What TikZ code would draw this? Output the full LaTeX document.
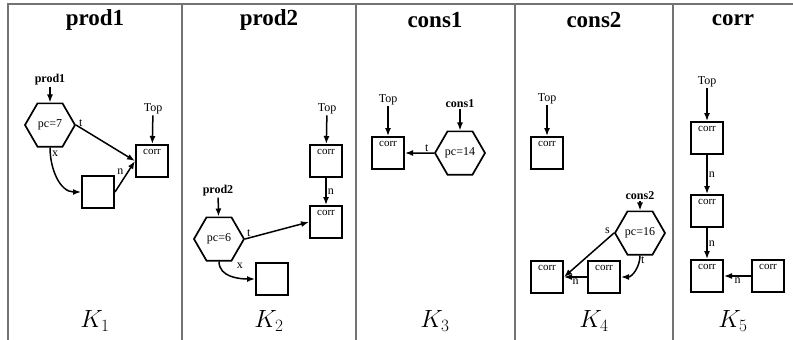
\documentclass[tikz,border=0pt]{standalone}
\usepackage{fontspec}
\setmainfont{Liberation Serif}
\usetikzlibrary{shapes.geometric,arrows.meta}

\begin{document}
\begin{tikzpicture}[x=1pt, y=-1pt,
    frame/.style={draw=black!55, line width=1.6pt},
    hexa/.style={draw, regular polygon, regular polygon sides=6, minimum size=50pt, inner sep=0pt, line width=1.7pt, font=\fontsize{12}{12}\selectfont},
    box/.style={draw, line width=2pt, minimum width=32pt, minimum height=32pt, inner sep=0pt},
    corrbox/.style={box, font=\fontsize{11}{11}\selectfont, text height=8pt, text depth=21pt, inner ysep=1.5pt},
    lbl/.style={font=\fontsize{12}{12}\selectfont, inner sep=1pt},
    ptr/.style={font=\bfseries\fontsize{12}{12}\selectfont, inner sep=1pt},
    edgelbl/.style={font=\fontsize{12}{12}\selectfont, inner sep=1pt},
    arr/.style={-{Latex[length=8pt,width=6pt]}, line width=1.5pt},
    title/.style={font=\bfseries\fontsize{23}{23}\selectfont},
    klbl/.style={font=\fontsize{24}{24}\selectfont}]
    \useasboundingbox (0,0) rectangle (793,340);
    \draw[frame] (8,340) -- (8,4) -- (793,4);
    \foreach \x in {182,356,515,673}
        \draw[frame] (\x,4) -- (\x,340);
    \node[title] (t1) at (95,20) {prod1};
    \node[title] (t2) at (269,20) {prod2};
    \node[title] (t3) at (435,20) {cons1};
    \node[title] (t4) at (594,20) {cons2};
    \node[title] (t5) at (733,20) {corr};
    \node[klbl] (k1) at (95,321) {$K_1$};
    \node[klbl] (k2) at (269,321) {$K_2$};
    \node[klbl] (k3) at (435,321) {$K_3$};
    \node[klbl] (k4) at (594,321) {$K_4$};
    \node[klbl] (k5) at (733,321) {$K_5$};

    \node[ptr] (p1) at (50,80) {prod1};
    \node[hexa] (h1) at (50,125) {pc=7};
    \node[lbl] (top1) at (153,109) {Top};
    \node[corrbox] (c1) at (152,161) {corr};
    \node[box] (e1) at (98,192) {};
    \draw[arr] (p1) -- (h1);
    \draw[arr] (top1) -- (c1);
    \draw[arr] (h1.east) -- node[edgelbl, pos=0.08, above] (lt1) {t} (c1.west);
    \draw[arr] (h1.south) to[out=-90, in=180] node[edgelbl, pos=0.1, right] (lx1) {x} (e1.west);
    \draw[arr] (e1.east) -- node[edgelbl, midway, above left] (ln1) {n} (c1.west);

    \node[lbl] (top2) at (327,109) {Top};
    \node[corrbox] (c21) at (326,161) {corr};
    \node[corrbox] (c22) at (326,222) {corr};
    \node[ptr] (p2) at (218,191) {prod2};
    \node[hexa] (h2) at (219,239) {pc=6};
    \node[box] (e2) at (272,279) {};
    \draw[arr] (top2) -- (c21);
    \draw[arr] (c21) -- node[edgelbl, midway, right] (ln2) {n} (c22);
    \draw[arr] (p2) -- (h2);
    \draw[arr] (h2.east) -- node[edgelbl, pos=0.06, above] (lt2) {t} (c22.west);
    \draw[arr] (h2.south) to[out=-90, in=180] node[edgelbl, pos=0, anchor=north west, xshift=16pt] (lx2) {x} (e2.west);

    \node[lbl] (top3) at (388,100) {Top};
    \node[corrbox] (c3) at (388,153) {corr};
    \node[ptr] (q1) at (460,104) {cons1};
    \node[hexa] (h3) at (460,153) {pc=14};
    \draw[arr] (top3) -- (c3);
    \draw[arr] (q1) -- (h3);
    \draw[arr] (h3.west) -- node[edgelbl, pos=0.25, above] (lt3) {t} (c3.east);

    \node[lbl] (top4) at (547,99) {Top};
    \node[corrbox] (c41) at (547,153) {corr};
    \node[ptr] (q2) at (640,196) {cons2};
    \node[hexa] (h4) at (640,233) {pc=16};
    \node[corrbox] (c42) at (547,277) {corr};
    \node[corrbox] (c43) at (604,277) {corr};
    \draw[arr] (top4) -- (c41);
    \draw[arr] (q2) -- (h4);
    \draw[arr] (h4.west) -- node[edgelbl, pos=0.05, above left] (ls4) {s} (c42.east);
    \draw[arr] (h4.south) to[out=-90, in=0] node[edgelbl, pos=0.15, right] (lt4) {t} (c43.east);
    \draw[arr] (c43) -- node[edgelbl, midway, below] (ln4) {n} (c42);

    \node[lbl] (top5) at (707,82) {Top};
    \node[corrbox] (c51) at (707,138) {corr};
    \node[corrbox] (c52) at (707,211) {corr};
    \node[corrbox] (c53) at (707,276) {corr};
    \node[corrbox] (c54) at (768,276) {corr};
    \draw[arr] (top5) -- (c51);
    \draw[arr] (c51) -- node[edgelbl, midway, right] (ln51) {n} (c52);
    \draw[arr] (c52) -- node[edgelbl, midway, right] (ln52) {n} (c53);
    \draw[arr] (c54) -- node[edgelbl, midway, below] (ln53) {n} (c53);
\end{tikzpicture}
\end{document}
